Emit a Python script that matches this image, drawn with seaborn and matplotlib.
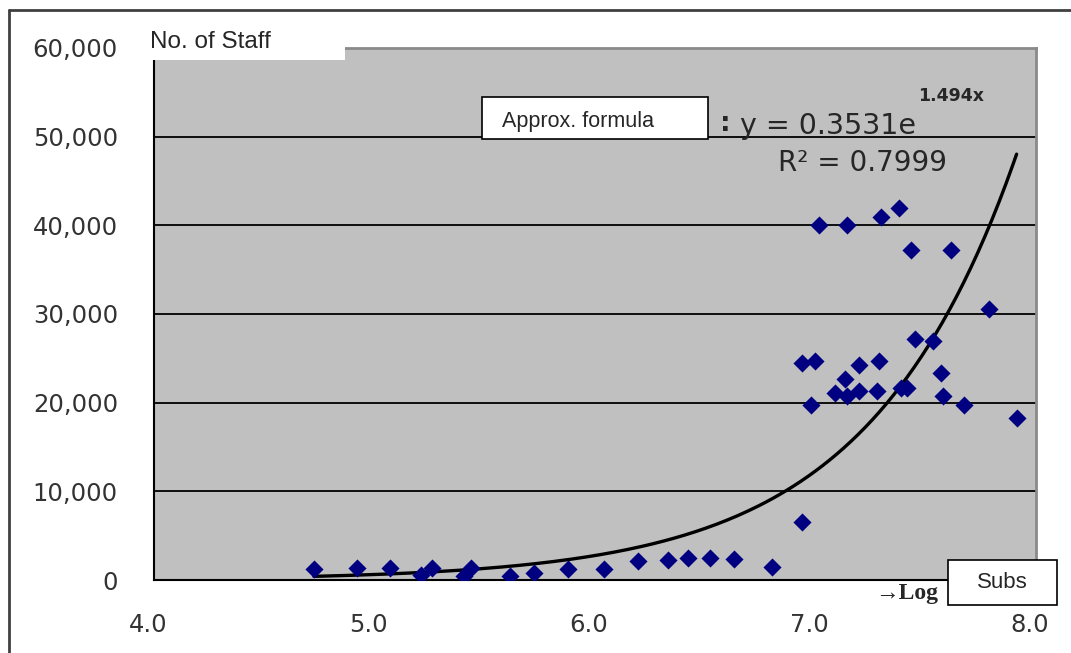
import numpy as np
import pandas as pd
import matplotlib
matplotlib.use("Agg")
import matplotlib.pyplot as plt
import matplotlib.transforms as mtransforms
import seaborn as sns
from matplotlib.patches import Rectangle
from matplotlib.lines import Line2D

# data (log of subs vs. number of staff)
log_subs = [4.725, 4.919, 5.069, 5.209, 5.260, 5.404, 5.439, 5.614, 5.723, 5.876,
            6.041, 6.194, 6.331, 6.424, 6.522, 6.631, 6.803, 6.940,
            6.940, 6.998, 6.980, 7.016, 7.089, 7.134, 7.143, 7.143, 7.198, 7.198,
            7.286, 7.280, 7.298, 7.380, 7.389, 7.416, 7.434, 7.452, 7.534, 7.570,
            7.576, 7.616, 7.673, 7.788, 7.912]
staff = [1200, 1400, 1400, 600, 1400, 500, 1300, 500, 800, 1200,
         1200, 2100, 2300, 2500, 2500, 2400, 1500, 6500,
         24500, 24700, 19700, 40000, 21100, 22700, 20700, 40000, 24300, 21300,
         24700, 21300, 40900, 41900, 21700, 21700, 37200, 27200, 26900, 23400,
         20700, 37200, 19700, 30600, 18300]

# trend line coefficients as printed on the chart
coef_a = 0.3531
coef_b = 1.494
r_squared = 0.7999

y_ticks = [0, 10000, 20000, 30000, 40000, 50000, 60000]
x_ticks = [4.0, 5.0, 6.0, 7.0, 8.0]

df = pd.DataFrame({"log_subs": log_subs, "staff": staff})
trend_x = np.linspace(min(log_subs), max(log_subs), 200)
trend = pd.DataFrame({"x": trend_x, "y": coef_a * np.exp(coef_b * trend_x)})

sns.set_style("white")
plt.rcParams["font.family"] = ["DejaVu Sans"]

W, H = 1071, 653
fig = plt.figure(figsize=(W / 100, H / 100), dpi=100)
ax = fig.add_axes([154 / W, 1 - 580 / H, (1036 - 154) / W, (580 - 48) / H])
ax.set_facecolor("#c0c0c0")

for yv in y_ticks[1:-1]:
    ax.axhline(yv, color="black", lw=1.3, zorder=1)

sns.lineplot(data=trend, x="x", y="y", color="black", lw=2.4, ax=ax, zorder=2)
sns.scatterplot(data=df, x="log_subs", y="staff", marker="D", s=85,
                color="#000080", edgecolor="#000080", linewidth=0, ax=ax, zorder=3)

ax.set_xlim(4.0, 8.0)
ax.set_ylim(0, 60000)
ax.set_xticks(x_ticks)
ax.set_yticks(y_ticks)
ax.set_xticklabels([f"{v:.1f}" for v in x_ticks])
ax.set_yticklabels([f"{v:,}" for v in y_ticks])
ax.tick_params(axis="x", direction="in", length=6, width=1.2, pad=24,
               labelsize=17.5, labelcolor="#333333")
ax.tick_params(axis="y", direction="in", length=0, pad=26,
               labelsize=17.5, labelcolor="#333333")
ax.set_xlabel("")
ax.set_ylabel("")

# x tick labels sit a little left of their ticks
shift = mtransforms.ScaledTranslation(-6 / 100, 0, fig.dpi_scale_trans)
for lab in ax.get_xticklabels():
    lab.set_transform(lab.get_transform() + shift)

for side in ["left", "bottom"]:
    ax.spines[side].set_color("black")
    ax.spines[side].set_linewidth(1.5)
for side in ["top", "right"]:
    ax.spines[side].set_color("#8a8a8a")
    ax.spines[side].set_linewidth(2)

# outer chart frame
fig.add_artist(Line2D([9 / W, 9 / W], [0, 1 - 10 / H], transform=fig.transFigure,
                      color="#404040", lw=2))
fig.add_artist(Line2D([9 / W, 1], [1 - 10 / H, 1 - 10 / H], transform=fig.transFigure,
                      color="#404040", lw=2))

# "No. of Staff" label box
fig.add_artist(Rectangle((147 / W, 1 - 60 / H), (345 - 147) / W, 35 / H,
                         transform=fig.transFigure, facecolor="white",
                         edgecolor="none", zorder=5))
fig.text(150 / W, 1 - 42 / H, "No. of Staff", fontsize=17.5, family="Liberation Sans",
         va="center", ha="left", zorder=6)

# approx formula box
fig.add_artist(Rectangle((482 / W, 1 - 139 / H), (708 - 482) / W, 42 / H,
                         transform=fig.transFigure, facecolor="white",
                         edgecolor="black", lw=1.2, zorder=5))
fig.text(502 / W, 1 - 121 / H, "Approx. formula", fontsize=15.5, family="Liberation Sans",
         va="center", ha="left", zorder=6)
fig.text(720 / W, 1 - 124 / H, ":", fontsize=19, fontweight="bold", va="center", ha="left")
fig.text(740 / W, 1 - 126 / H, f"y = {coef_a}e", fontsize=20.5, va="center", ha="left")
fig.text(918 / W, 1 - 96 / H, f"{coef_b}x", fontsize=12.5, fontweight="bold",
         va="center", ha="left")
fig.text(778 / W, 1 - 163 / H, f"R\u00b2 = {r_squared}", fontsize=20,
         va="center", ha="left")

# x axis label box
fig.text(875 / W, 1 - 594 / H, "\u2192Log", fontsize=17, fontweight="bold",
         family=["Liberation Serif", "DejaVu Serif"], va="center", ha="left")
fig.add_artist(Rectangle((948 / W, 1 - 605 / H), (1057 - 948) / W, 45 / H,
                         transform=fig.transFigure, facecolor="white",
                         edgecolor="black", lw=1.2, zorder=5))
fig.text(1002 / W, 1 - 583 / H, "Subs", fontsize=16, family="Liberation Sans",
         va="center", ha="center", zorder=6)

fig.savefig("out.png", dpi=100)
